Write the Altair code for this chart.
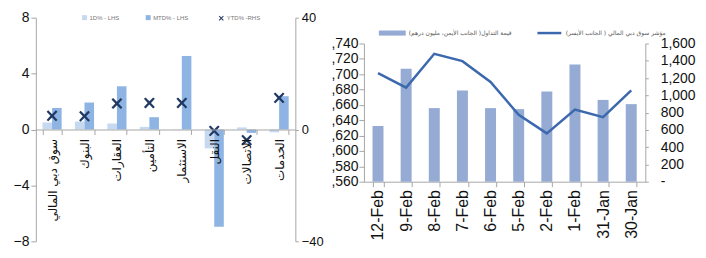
import altair as alt
import pandas as pd

# ---- Left panel data ----
sectors = ["سوق دبي المالي", "البنوك", "العقارات", "التأمين", "الاستثمار", "النقل", "الاتصالات", "الخدمات"]
bar_series = ["1D% - LHS", "MTD% - LHS"]
ytd_series = "YTD% -RHS"
d1 = [0.5, 0.57, 0.43, 0.19, 0.02, -1.35, 0.15, -0.2]
mtd = [1.54, 1.93, 3.09, 0.88, 5.26, -6.96, -0.24, 2.38]
ytd = [4.9, 4.75, 9.3, 9.5, 9.5, -0.5, -3.8, 11.3]

# ---- Right panel data ----
dates = ["12-Feb", "9-Feb", "8-Feb", "7-Feb", "6-Feb", "5-Feb", "2-Feb", "1-Feb", "31-Jan", "30-Jan"]
turnover = [645, 1309, 852, 1055, 852, 840, 1044, 1358, 947, 898]
index_vals = [2701.5, 2682.6, 2726.6, 2717, 2690, 2647, 2623, 2654, 2644, 2679]
turnover_name = "قيمة التداول( الجانب الأيمن، مليون درهم)"
index_name = "مؤشر سوق دبي المالي ( الجانب الأيسر)"

bar_df = pd.DataFrame(
    [{"sector": s, "series": bar_series[0], "value": v} for s, v in zip(sectors, d1)]
    + [{"sector": s, "series": bar_series[1], "value": v} for s, v in zip(sectors, mtd)]
)
ytd_df = pd.DataFrame({"sector": sectors, "series": ytd_series, "value": ytd})
right_df = pd.DataFrame({
    "date": dates, "turnover": turnover, "index": index_vals,
    "tname": turnover_name, "iname": index_name, "i": list(range(len(dates))),
})

X_PATH = ("M-1,-0.75L-0.7,-1L0,-0.3L0.7,-1L1,-0.75L0.3,0L1,0.75L0.7,1"
          "L0,0.3L-0.7,1L-1,0.75L-0.3,0Z")
GREY = "#A6A6A6"
NUM_FONT = "Liberation Sans"
AR_FONT = "DejaVu Sans"

# ---------------- Left chart ----------------
LW, LH = 261, 225
xsc = alt.Scale(domain=sectors, paddingInner=0.41, paddingOuter=0.205)
x_axis = alt.Axis(title=None, labelAngle=270, offset=-LH / 2, labelFont=AR_FONT,
                  labelFontSize=12, labelColor="#111", labelOverlap=False, labelLimit=300,
                  tickBand="extent", tickSize=5, domainColor=GREY, tickColor=GREY,
                  labelPadding=4, zindex=1)

bars = alt.Chart(bar_df).mark_bar().encode(
    x=alt.X("sector:N", sort=sectors, scale=xsc, axis=x_axis),
    xOffset=alt.XOffset("series:N", sort=bar_series,
                        scale=alt.Scale(domain=bar_series, paddingInner=0, paddingOuter=0)),
    y=alt.Y("value:Q", scale=alt.Scale(domain=[-8, 8], nice=False),
            axis=alt.Axis(title=None, values=[-8, -4, 0, 4, 8], format="d", grid=False,
                          labelFont=NUM_FONT, labelFontSize=14, labelColor="#111",
                          domainColor=GREY, tickColor=GREY, tickSize=5, labelPadding=2)),
    fill=alt.Fill("series:N", scale=alt.Scale(domain=bar_series, range=["#C6D9F0", "#8DB4E2"]),
                  legend=alt.Legend(orient="none", legendX=46, legendY=-3, direction="horizontal",
                                    title=None, labelFontSize=6, labelColor="#777",
                                    labelFont=NUM_FONT, symbolType="square", symbolSize=25,
                                    symbolStrokeWidth=0, columnPadding=25, labelOffset=2)),
)

pts = alt.Chart(ytd_df).mark_point(filled=True, size=120, color="#1F3864", opacity=1).encode(
    x=alt.X("sector:N", sort=sectors, scale=xsc, axis=x_axis),
    y=alt.Y("value:Q", scale=alt.Scale(domain=[-40, 40], nice=False),
            axis=alt.Axis(title=None, orient="right", values=[-40, 0, 40], format="d", grid=False,
                          labelFont=NUM_FONT, labelFontSize=13, labelColor="#111",
                          domainColor=GREY, tickColor=GREY, tickSize=3, labelPadding=3)),
    shape=alt.Shape("series:N", scale=alt.Scale(domain=[ytd_series], range=[X_PATH]),
                    legend=alt.Legend(orient="none", legendX=183, legendY=-3, title=None,
                                      labelFontSize=6, labelColor="#777", labelFont=NUM_FONT,
                                      symbolSize=25, labelOffset=2)),
)

left = alt.layer(bars, pts).resolve_scale(y="independent").properties(width=LW, height=LH)

# ---------------- Right chart ----------------
# the plot shares its top with the left panel; its axes occupy the lower part only
RW, RH, RTOP = 283, 165, 26
xsc2 = alt.Scale(domain=dates, paddingInner=0.61, paddingOuter=0.305)
x_axis2 = alt.Axis(title=None, labelAngle=270, labelFont=NUM_FONT, labelFontSize=16,
                   labelColor="#111", labelOverlap=False, tickBand="extent", tickSize=5,
                   domainColor=GREY, tickColor=GREY, labelPadding=3)

bars2 = alt.Chart(right_df).mark_bar().encode(
    x=alt.X("date:N", sort=dates, scale=xsc2, axis=x_axis2),
    y=alt.Y("turnover:Q", scale=alt.Scale(domain=[0, 1600], nice=False, range=[RH, RTOP]),
            axis=alt.Axis(title=None, orient="right", values=list(range(0, 1601, 200)),
                          format=",.0f", labelExpr="datum.value == 0 ? '-' : datum.label",
                          grid=False, labelFont=NUM_FONT, labelFontSize=14, labelColor="#111",
                          domainColor=GREY, tickColor=GREY, tickSize=3, labelPadding=12)),
    fill=alt.Fill("tname:N", scale=alt.Scale(domain=[turnover_name], range=["#95ABD3"]),
                  legend=alt.Legend(orient="none", legendX=15, legendY=2, title=None,
                                    labelFontSize=6, labelColor="#555", labelFont=AR_FONT,
                                    symbolType="M-1,-0.19H1V0.19H-1Z", symbolSize=729,
                                    symbolStrokeWidth=0, labelOffset=3)),
)

line2 = alt.Chart(right_df).mark_line(strokeWidth=2.5).encode(
    x=alt.X("date:N", sort=dates, scale=xsc2, axis=x_axis2),
    y=alt.Y("index:Q", scale=alt.Scale(domain=[2560, 2740], nice=False, zero=False,
                                       range=[RH, RTOP]),
            axis=alt.Axis(title=None, orient="left", values=list(range(2560, 2741, 20)),
                          format=",.0f", labelExpr="substring(datum.label, 1)", grid=False,
                          labelFont=NUM_FONT, labelFontSize=14, labelColor="#111",
                          domainColor=GREY, tickColor=GREY, tickSize=5, labelPadding=1)),
    stroke=alt.Stroke("iname:N", scale=alt.Scale(domain=[index_name], range=["#3C68AE"]),
                      legend=alt.Legend(orient="none", legendX=173, legendY=2, title=None,
                                        labelFontSize=6, labelColor="#555", labelFont=AR_FONT,
                                        symbolType="stroke", symbolSize=576,
                                        symbolStrokeWidth=2.5, labelOffset=3)),
    order=alt.Order("i:Q"),
)

right = alt.layer(bars2, line2).resolve_scale(y="independent").properties(width=RW, height=RH)

chart = alt.hconcat(left, right, spacing=6).resolve_scale(
    fill="independent", stroke="independent", shape="independent"
).resolve_legend(
    fill="independent", stroke="independent", shape="independent"
).properties(
    padding={"left": 5, "top": 2, "right": 2, "bottom": 2}
).configure_view(stroke=None)

chart.save("out.html", embed_options={"renderer": "svg", "actions": False})
